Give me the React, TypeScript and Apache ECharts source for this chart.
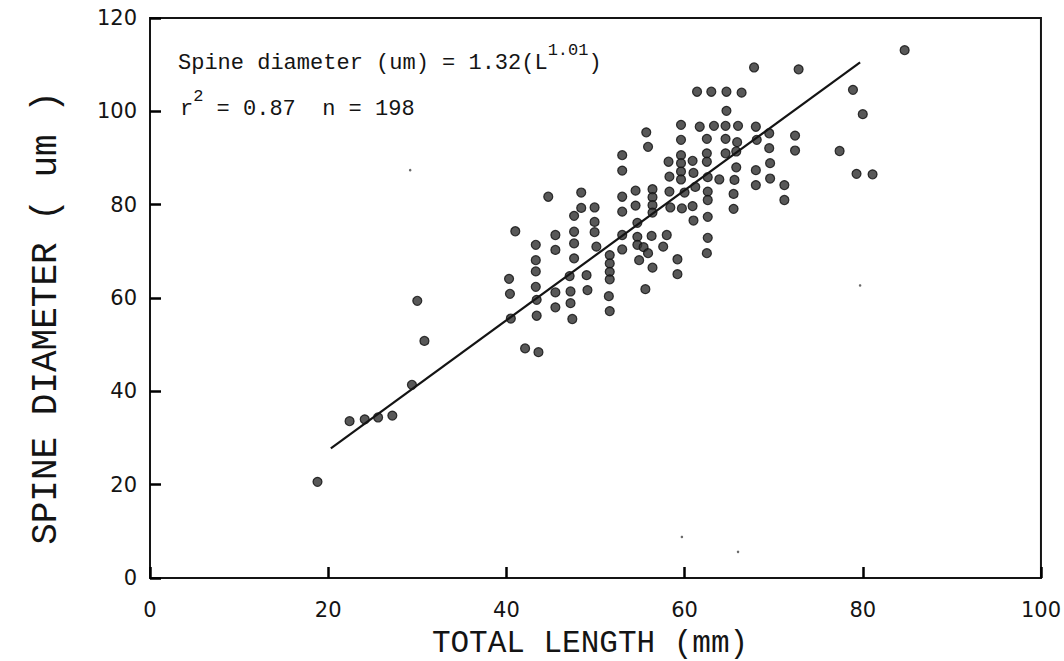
import React, { useEffect, useRef } from "react";
import * as echarts from "echarts";

const xTicks = [0, 20, 40, 60, 80, 100];
const yTicks = [0, 20, 40, 60, 80, 100, 120];

// observed points: [total length (mm), spine diameter (um)]
const points: number[][] = [
  [18.8, 20.6], [22.4, 33.6], [24.1, 34.0], [25.6, 34.4], [27.2, 34.8], [29.4, 41.4], [30.0, 59.4], [30.8, 50.8],
  [41.0, 74.3], [40.3, 64.1], [40.4, 60.9], [40.5, 55.6], [42.1, 49.2], [43.6, 48.4],
  [43.3, 71.4], [43.3, 68.1], [43.3, 65.7], [43.3, 62.4], [43.4, 59.6], [43.4, 56.2],
  [44.7, 81.7], [45.5, 73.5], [45.5, 70.3], [45.5, 61.2], [45.5, 58.0],
  [48.4, 82.6], [48.4, 79.3], [47.6, 77.6], [47.6, 74.2], [47.6, 71.7], [47.6, 68.5], [47.1, 64.7], [47.2, 61.4], [47.2, 58.9], [47.4, 55.5],
  [49.9, 79.4], [49.9, 76.3], [49.9, 74.1], [50.1, 71.0], [49.0, 64.9], [49.1, 61.7],
  [51.6, 69.2], [51.6, 67.4], [51.6, 65.6], [51.6, 64.0], [51.5, 60.4], [51.6, 57.2],
  [53.0, 90.6], [53.0, 87.3], [53.0, 81.7], [53.0, 78.5], [53.0, 73.5], [53.0, 70.4],
  [54.5, 83.0], [54.5, 79.8], [54.7, 76.1], [54.7, 73.1], [54.7, 71.4], [55.4, 70.9], [54.9, 68.1], [55.9, 69.6], [56.3, 73.3],
  [56.4, 83.3], [56.4, 81.6], [56.4, 79.9], [56.4, 78.3], [56.4, 66.5], [55.6, 61.9], [57.6, 71.0], [58.0, 73.5],
  [55.7, 95.5], [55.9, 92.4], [58.2, 89.2], [58.3, 86.0], [58.3, 82.8], [58.4, 79.4], [59.2, 68.3], [59.2, 65.1],
  [59.6, 97.1], [59.6, 93.9], [59.6, 90.6], [59.6, 88.9], [59.6, 87.1], [59.6, 85.4], [60.0, 82.6], [59.7, 79.2],
  [60.9, 89.4], [61.0, 86.8], [61.2, 83.8], [60.9, 79.7], [61.0, 76.6],
  [61.7, 96.7], [62.5, 94.1], [62.5, 91.0], [62.5, 89.2], [62.6, 85.9], [62.6, 82.8], [62.6, 81.0], [62.6, 77.4], [62.6, 72.9], [62.5, 69.6],
  [63.3, 96.9], [64.6, 96.9], [66.0, 96.9], [63.9, 85.4], [64.6, 94.1], [64.6, 91.0], [65.9, 93.4], [65.8, 91.4], [65.8, 88.0], [65.6, 85.3], [65.5, 82.3], [65.5, 79.1],
  [68.0, 87.4], [68.0, 84.2], [68.0, 96.7], [68.1, 93.9],
  [67.8, 109.4], [72.8, 109.0], [84.7, 113.1], [61.4, 104.2], [63.0, 104.2], [64.7, 104.2], [66.4, 104.0], [64.7, 100.1],
  [69.5, 95.3], [69.5, 92.1], [69.6, 88.9], [69.6, 85.6], [72.4, 94.8], [72.4, 91.6], [71.2, 84.2], [71.2, 81.0],
  [78.9, 104.6], [80.0, 99.4], [77.4, 91.5], [79.3, 86.6], [81.1, 86.5],
];

// small specks visible in the scanned figure
const specks: number[][] = [
  [29.2, 87.4], [59.7, 8.8], [66.0, 5.6], [79.7, 62.7],
];

// fitted line end points
const fitLine: number[][] = [
  [20.3, 27.8],
  [79.7, 110.5],
];

const equationText = "Spine diameter (um) = 1.32(L";
const equationExp = "1.01";
const statsText = " = 0.87  n = 198";

export default function App() {
  const ref = useRef<HTMLDivElement>(null);
  useEffect(() => {
    if (!ref.current) return;
    const chart = echarts.init(ref.current, null, { renderer: "svg" });
    const ink = "#141414";
    const mono = "'Liberation Mono', 'DejaVu Sans Mono', monospace";
    chart.setOption({
      animation: false,
      backgroundColor: "#ffffff",
      grid: {
        left: 150,
        top: 18,
        right: 23,
        bottom: 83,
        show: true,
        borderColor: ink,
        borderWidth: 2,
      },
      xAxis: {
        type: "value",
        min: 0,
        max: 100,
        interval: 20,
        splitLine: { show: false },
        axisLine: { show: true, onZero: false, lineStyle: { color: ink, width: 2 } },
        axisTick: { show: true, inside: true, length: 11, lineStyle: { color: "#000", width: 2.5 } },
        axisLabel: {
          show: true,
          color: ink,
          fontFamily: "'DejaVu Sans', sans-serif",
          fontSize: 21,
          margin: 21,
          formatter: (v: number) => (xTicks.includes(v) ? String(v) : ""),
        },
      },
      yAxis: {
        type: "value",
        min: 0,
        max: 120,
        interval: 20,
        splitLine: { show: false },
        axisLine: { show: true, onZero: false, lineStyle: { color: ink, width: 2 } },
        axisTick: { show: true, inside: true, length: 11, lineStyle: { color: "#000", width: 2.5 } },
        axisLabel: {
          show: true,
          color: ink,
          fontFamily: "'DejaVu Sans', sans-serif",
          fontSize: 21,
          margin: 13,
          formatter: (v: number) => (yTicks.includes(v) ? String(v) : ""),
        },
      },
      series: [
        {
          type: "scatter",
          data: points,
          symbol: "circle",
          symbolSize: 9,
          itemStyle: { color: "#2e2e2e", borderColor: "#0e0e0e", borderWidth: 1.2 },
          z: 3,
        },
        {
          type: "scatter",
          data: specks,
          symbol: "circle",
          symbolSize: 2.5,
          itemStyle: { color: "#444" },
          z: 2,
        },
        {
          type: "line",
          data: fitLine,
          symbol: "none",
          lineStyle: { color: ink, width: 2.2 },
          z: 4,
        },
      ],
      graphic: [
        {
          type: "text",
          left: 178,
          top: 42,
          style: {
            text: `{a|${equationText}}{s|${equationExp}}{a|)}`,
            rich: {
              a: { fontFamily: mono, fontSize: 22, fill: ink, lineHeight: 32, verticalAlign: "bottom" },
              s: { fontFamily: mono, fontSize: 17, fill: ink, lineHeight: 17, verticalAlign: "top" },
            },
          },
        },
        {
          type: "text",
          left: 180,
          top: 88,
          style: {
            text: `{a|r}{s|2}{a|${statsText}}`,
            rich: {
              a: { fontFamily: mono, fontSize: 22, fill: ink, lineHeight: 32, verticalAlign: "bottom" },
              s: { fontFamily: mono, fontSize: 17, fill: ink, lineHeight: 17, verticalAlign: "top" },
            },
          },
        },
        {
          type: "text",
          x: 590,
          y: 643,
          style: {
            text: "TOTAL LENGTH (mm)",
            fontFamily: mono,
            fontSize: 31,
            fill: ink,
            align: "center",
            verticalAlign: "middle",
          },
        },
        {
          type: "text",
          x: 46,
          y: 318,
          rotation: Math.PI / 2,
          style: {
            text: "SPINE DIAMETER ( um )",
            fontFamily: mono,
            fontSize: 36,
            fill: ink,
            align: "center",
            verticalAlign: "middle",
          },
        },
      ],
    });
    return () => chart.dispose();
  }, []);
  return (
    <div
      ref={ref}
      style={{ position: "fixed", left: 0, top: 0, width: 1064, height: 661, background: "#fff" }}
    />
  );
}
